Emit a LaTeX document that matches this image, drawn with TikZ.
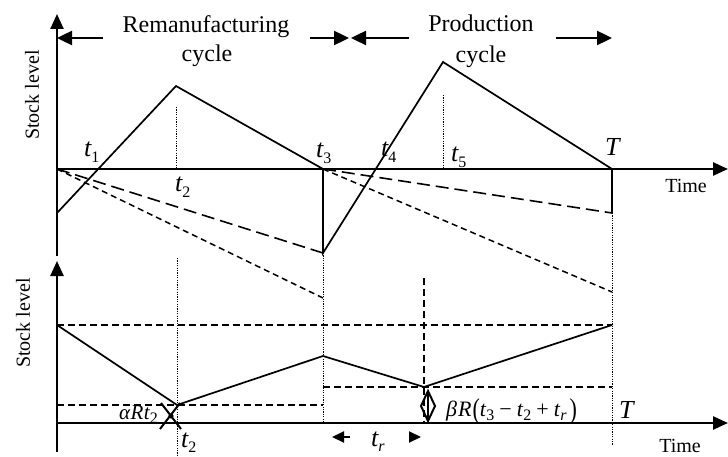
\documentclass[tikz,border=0pt]{standalone}
\usepackage{fontspec}
\setmainfont{Liberation Serif}
\usetikzlibrary{arrows.meta}
\newcommand{\sbs}[1]{\raisebox{-0.22em}{\fontsize{16}{16}\selectfont #1}}
\newcommand{\tallparen}[1]{\raisebox{-0.12em}{\scalebox{1}[1.3]{#1}}}
\begin{document}
\begin{tikzpicture}[x=1pt,y=-1pt,
 axis/.style={line width=2.4pt},
 axisarrow/.style={line width=2.4pt,-{Triangle[length=15pt,width=13pt]}},
 cyclearrow/.style={line width=2.4pt,-{Triangle[length=15pt,width=14pt]}},
 smallarrow/.style={line width=2pt,-{Triangle[length=12pt,width=11pt]}},
 curve/.style={line width=1.7pt,line join=miter},
 longdash/.style={line width=1.6pt,dash pattern=on 13pt off 6pt},
 shortdash/.style={line width=1.5pt,dash pattern=on 6pt off 4pt},
 hdash/.style={line width=1.5pt,dash pattern=on 7pt off 4pt},
 dotline/.style={line width=0.8pt,dash pattern=on 1.2pt off 1.2pt},
 title/.style={font=\fontsize{24}{26}\selectfont,inner sep=0pt,anchor=base},
 axlbl/.style={font=\fontsize{20}{22}\selectfont,inner sep=0pt},
 tl/.style={font=\fontsize{26}{28}\selectfont\itshape,inner sep=0pt,anchor=base west},
 mlbl/.style={font=\fontsize{22}{24}\selectfont,inner sep=0pt,anchor=base west}]
\useasboundingbox (0,0) rectangle (728,457);

% ---------- coordinates ----------
\coordinate (A1top) at (57,14);
\coordinate (A1bot) at (57,256);
\coordinate (O1) at (57,169);
\coordinate (X1end) at (728,169);
\coordinate (A2top) at (57,261);
\coordinate (A2bot) at (57,452);
\coordinate (O2) at (57,423);
\coordinate (X2end) at (728,423);

\coordinate (s0) at (57,213);
\coordinate (p1) at (176,86);
\coordinate (t3) at (323,169);
\coordinate (t3d) at (323,253);
\coordinate (p2) at (443,62);
\coordinate (TT) at (612,169);
\coordinate (TTd) at (612,213);
\coordinate (sd1) at (323,298);
\coordinate (sd2) at (612,292);

% ---------- upper graph ----------
\draw[axisarrow] (A1bot) -- (A1top);
\draw[axisarrow] (O1) -- (X1end);
\draw[curve] (s0) -- (p1) -- (t3) -- (t3d) -- (p2) -- (TT) -- (TTd);
\draw[longdash] (O1) -- (t3d);
\draw[longdash] (t3) -- (TTd);
\draw[shortdash] (O1) -- (sd1);
\draw[shortdash] (t3) -- (sd2);
\draw[dotline] (176,107) -- (176,169);
\draw[dotline] (443,95) -- (443,169);
\draw[dotline] (t3d) -- (323,423);
\draw[dotline] (TTd) -- (612,445);
\draw[dotline] (177,258) -- (177,457);

% cycle arrows
\draw[cyclearrow] (103,38) -- (57,38);
\draw[cyclearrow] (310,38) -- (349,38);
\draw[cyclearrow] (409,38) -- (351,38);
\draw[cyclearrow] (556,38) -- (612,38);

\node[title] (rem) at (206,33) {Remanufacturing};
\node[title] (rc) at (207,62) {cycle};
\node[title] (prod) at (481,32) {Production};
\node[title] (pc) at (481,63) {cycle};
\node[axlbl,rotate=90] (sl1) at (32,95) {Stock level};
\node[axlbl,anchor=base] (time1) at (686,193) {Time};

\node[tl] (lt1) at (84,157) {t\sbs{\upshape 1}};
\node[tl] (lt2) at (175,192) {t\sbs{\upshape 2}};
\node[tl] (lt3) at (316,158) {t\sbs{\upshape 3}};
\node[tl] (lt4) at (381,157) {t\sbs{\upshape 4}};
\node[tl] (lt5) at (451,162) {t\sbs{\upshape 5}};
\node[tl] (lT1) at (605,156) {T};

% ---------- lower graph ----------
\draw[axisarrow] (A2bot) -- (A2top);
\draw[axisarrow] (O2) -- (X2end);
\draw[hdash] (57,325) -- (612,325);
\draw[hdash] (57,405) -- (323,405);
\draw[hdash] (323,387) -- (612,387);
\draw[hdash] (424,278) -- (424,423);
\draw[curve] (57,325) -- (177,405) -- (323,356) -- (424,387) -- (612,325);

% markers
\draw[line width=2pt] (161,403) -- (181,429);
\draw[line width=2pt] (180,403) -- (160,429);
\fill (171,416) circle (2.6pt);
\draw[line width=2pt] (428,391) -- (435,406) -- (428,421) -- (421,406) -- cycle;
\draw[line width=1.6pt] (428,391) -- (428,421);

% t_r arrows
\draw[smallarrow] (350,437) -- (332,437);
\draw[smallarrow] (409,437) -- (421,437);

\node[axlbl,rotate=90] (sl2) at (23,323) {Stock level};
\node[axlbl,anchor=base] (time2) at (680,452) {Time};
\node[tl] (lt2b) at (181,447) {t\sbs{\upshape 2}};
\node[tl] (ltr) at (371,446) {t\sbs{r}};
\node[tl] (lT2) at (619,418) {T};
\node[mlbl,font=\fontsize{21}{24}\selectfont,anchor=base east] (arl) at (158,419) {\itshape α\kern0.5pt R\kern0.5pt t\sbs{\upshape 2}};
\node[mlbl] (brl) at (446,416) {\textit{β}\kern1pt\textit{R}\kern1pt\tallparen{(}\textit{t}\sbs{3}\kern5pt−\kern5pt\textit{t}\sbs{2}\kern5pt+\kern5pt\textit{t}\sbs{\itshape r}\kern3pt\tallparen{)}};
\end{tikzpicture}
\end{document}
